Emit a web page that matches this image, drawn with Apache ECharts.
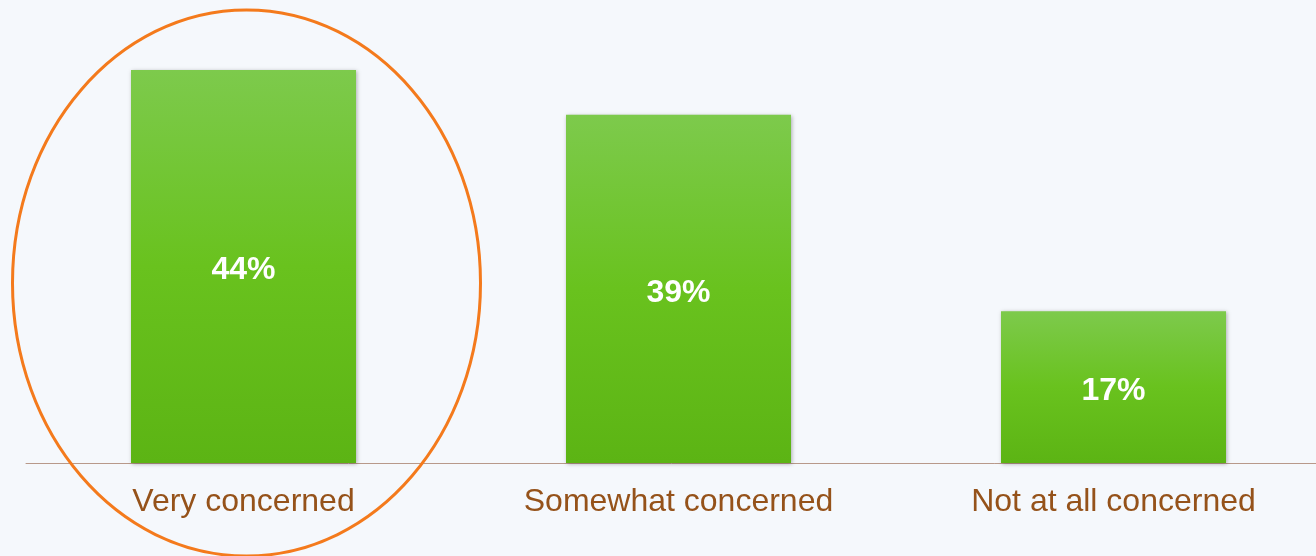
<!DOCTYPE html>
<html>
<head>
<meta charset="utf-8">
<script src="https://cdn.jsdelivr.net/npm/echarts@6/dist/echarts.min.js"></script>
<style>
  html, body { margin: 0; padding: 0; background: #f5f8fc; }
  #chart { width: 1316px; height: 556px; }
</style>
</head>
<body>
<div id="chart"></div>
<script>
const categories = ['Very concerned', 'Somewhat concerned', 'Not at all concerned'];
const values = [44, 39, 17];

const chart = echarts.init(document.getElementById('chart'));

const option = {
  backgroundColor: '#f5f8fc',
  animation: false,
  grid: { left: 26, width: 1305, top: 16.5, bottom: 93, outerBoundsMode: 'none' },
  xAxis: {
    type: 'category',
    data: categories,
    axisLine: { lineStyle: { color: '#b8998a', width: 1 } },
    axisTick: { show: false },
    axisLabel: {
      color: '#95521a',
      fontSize: 32,
      fontFamily: 'Liberation Sans, Arial, sans-serif',
      margin: 23
    }
  },
  yAxis: {
    type: 'value',
    min: 0,
    max: 50,
    show: false,
    splitLine: { show: false }
  },
  series: [
    {
      type: 'bar',
      data: values,
      barWidth: 225,
      itemStyle: {
        color: new echarts.graphic.LinearGradient(0, 0, 0, 1, [
          { offset: 0, color: '#7dca4c' },
          { offset: 0.5, color: '#69c21e' },
          { offset: 1, color: '#5cb414' }
        ]),
        shadowColor: 'rgba(0,0,0,0.3)',
        shadowBlur: 4,
        shadowOffsetX: 1,
        shadowOffsetY: 1
      },
      label: {
        show: true,
        position: 'inside',
        formatter: '{c}%',
        color: '#ffffff',
        fontSize: 32,
        fontWeight: 'bold',
        fontFamily: 'Liberation Sans, Arial, sans-serif',
        offset: [0, 4]
      }
    }
  ]
};

chart.setOption(option);

// highlight ellipse around the first category
const c = chart.convertToPixel({ xAxisIndex: 0, yAxisIndex: 0 }, [0, 0]);
chart.setOption({
  graphic: [
    {
      type: 'ellipse',
      shape: { cx: c[0] + 3, cy: 283, rx: 234, ry: 273 },
      style: { fill: 'none', stroke: '#f47a1c', lineWidth: 3 },
      z: 100
    }
  ]
});
</script>
</body>
</html>
